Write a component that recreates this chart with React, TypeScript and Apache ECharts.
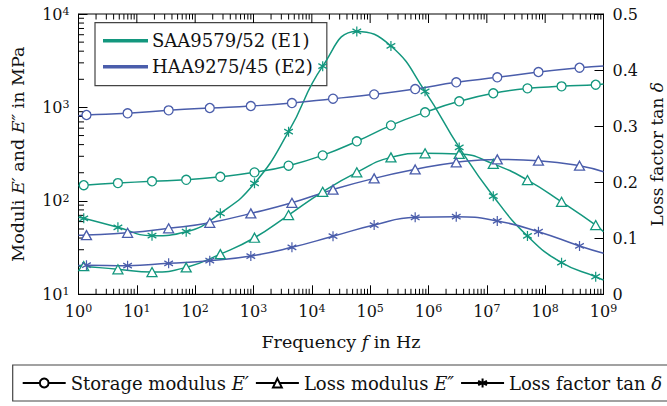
import React, { useEffect, useRef } from 'react';
import * as echarts from 'echarts';

const TEAL = '#13977e';
const BLUE = '#4a5dab';
const FONT = "'DejaVu Serif', serif";
const ASTER = 'path://M0,-10L0,10M-8.66,-5L8.66,5M-8.66,5L8.66,-5';

// axis ticks
const freqTicks = [1, 10, 100, 1e3, 1e4, 1e5, 1e6, 1e7, 1e8, 1e9];
const freqTickExp = ['0', '1', '2', '3', '4', '5', '6', '7', '8', '9'];
const moduliTicks = [10, 100, 1000, 10000];
const moduliTickExp = ['1', '2', '3', '4'];
const minorSteps = [2, 3, 4, 5, 6, 7, 8, 9];

// curve end frequencies (fitted curves span full range)
const curveEnds = [1, 1e9];

// measurement frequencies in Hz
const e1Freq = [1.23, 4.74, 18.2, 70.2, 270, 1040, 3990, 15350, 59000, 2.27e5, 8.73e5, 3.36e6, 1.29e7, 4.97e7, 1.91e8, 7.35e8];
const e2Freq = [1.37, 6.94, 35.1, 178, 900, 4560, 23070, 1.17e5, 5.91e5, 2.99e6, 1.51e7, 7.67e7, 3.88e8];

// SAA9579/52 (E1)
const e1Storage = [147, 155, 162, 168, 181, 202, 238, 307, 434, 643, 887, 1163, 1417, 1601, 1682, 1750];
const e1StorageEnds = [145, 1781];
const e1Loss = [20.0, 18.5, 17.3, 19.4, 26.9, 40.3, 70.5, 125, 202, 292, 323, 318, 249, 167, 97.8, 55.1];
const e1LossEnds = [20.2, 46.7];
const e1Tan = [0.1356, 0.1195, 0.1045, 0.1117, 0.1445, 0.198, 0.29, 0.407, 0.469, 0.443, 0.362, 0.262, 0.175, 0.104, 0.0564, 0.0314];
const e1TanEnds = [0.1374, 0.0255];

// HAA9275/45 (E2)
const e2Storage = [830, 865, 931, 986, 1035, 1114, 1240, 1380, 1573, 1857, 2100, 2393, 2660];
const e2StorageEnds = [815, 2775];
const e2Loss = [43.0, 45.5, 50.8, 58.3, 73.5, 95.4, 132, 174, 217, 258, 278, 269, 238];
const e2LossEnds = [42.8, 205];
const e2Tan = [0.052, 0.051, 0.0553, 0.0599, 0.0683, 0.0838, 0.1036, 0.1236, 0.1374, 0.1384, 0.1308, 0.1117, 0.0862];
const e2TanEnds = [0.0514, 0.0731];

const materialNames = ['SAA9579/52 (E1)', 'HAA9275/45 (E2)'];
const quantityNames = ['Storage modulus E′', 'Loss modulus E″', 'Loss factor tan δ'];

function curve(name: string, freq: number[], vals: number[], ends: number[], color: string, symbol: string, yAxisIndex: number) {
  const data: any[] = [{ value: [curveEnds[0], ends[0]], symbol: 'none' }];
  freq.forEach((f, i) => data.push([f, vals[i]]));
  data.push({ value: [curveEnds[1], ends[1]], symbol: 'none' });
  const isAster = symbol === ASTER;
  return {
    type: 'line',
    name,
    data,
    yAxisIndex,
    smooth: 0.5,
    showAllSymbol: true,
    symbol,
    symbolSize: isAster ? [8.7, 10] : symbol === 'triangle' ? [10, 9] : 9,
    lineStyle: { color, width: 1.5 },
    itemStyle: isAster
      ? { color, borderColor: color, borderWidth: 1.3 }
      : { color: '#fff', borderColor: color, borderWidth: 1.3 },
    z: 5,
    silent: true,
    legendHoverLink: false,
  };
}

function legendDummy(name: string, color: string, symbol: string) {
  const isAster = symbol === ASTER;
  return {
    type: 'line',
    name,
    data: [],
    symbol,
    symbolSize: 9,
    lineStyle: { color, width: 1.6 },
    itemStyle: isAster || symbol === 'none'
      ? { color, borderColor: color, borderWidth: 1.4 }
      : { color: '#fff', borderColor: color, borderWidth: 1.4 },
  };
}

const richText = (size: number, lineHeight?: number) => ({
  r: { fontFamily: FONT, fontSize: size, color: '#111', lineHeight },
  i: { fontFamily: FONT, fontSize: size, color: '#111', fontStyle: 'italic', lineHeight },
});

const supRich = {
  b: { fontFamily: FONT, fontSize: 16, color: '#111', lineHeight: 16 },
  s: { fontFamily: FONT, fontSize: 11, color: '#111', lineHeight: 11, verticalAlign: 'top' },
};

export default function App() {
  const ref = useRef<HTMLDivElement>(null);
  useEffect(() => {
    if (!ref.current) return;
    const chart = echarts.init(ref.current, null, { renderer: 'svg' });

    const xMinor: number[][] = [];
    freqTicks.slice(0, -1).forEach((d) => minorSteps.forEach((m) => xMinor.push([d * m, 100])));
    const yMinor: number[][] = [];
    moduliTicks.slice(0, -1).forEach((d) => minorSteps.forEach((m) => yMinor.push([10, d * m])));
    const xMajor = freqTicks.map((f) => [f, 100]);

    const tickSeries = (data: number[][], kind: string) => ({
      type: 'custom',
      silent: true,
      z: 3,
      data,
      renderItem: (params: any, api: any) => {
        const cs = params.coordSys;
        const stroke = { stroke: '#000', lineWidth: 1 };
        if (kind === 'y') {
          const py = api.coord([api.value(0), api.value(1)])[1];
          return { type: 'line', shape: { x1: cs.x, y1: py, x2: cs.x + 5.5, y2: py }, style: stroke };
        }
        const px = api.coord([api.value(0), api.value(1)])[0];
        const len = kind === 'xMajorTop' ? 9 : 5.5;
        const children: any[] = [
          { type: 'line', shape: { x1: px, y1: cs.y, x2: px, y2: cs.y + len }, style: stroke },
        ];
        if (kind === 'xMinor') {
          children.push({ type: 'line', shape: { x1: px, y1: cs.y + cs.height, x2: px, y2: cs.y + cs.height - len }, style: stroke });
        }
        return { type: 'group', children };
      },
    });

    chart.setOption({
      animation: false,
      backgroundColor: '#fff',
      grid: {
        left: 78.5, right: 63.5, top: 14, bottom: 111.7,
        outerBoundsMode: 'none', containLabel: false,
        show: true, borderColor: '#000', borderWidth: 1, backgroundColor: 'transparent',
      },
      xAxis: {
        type: 'log',
        logBase: 10,
        min: 1,
        max: 1e9,
        interval: 1,
        axisLine: { lineStyle: { color: '#000', width: 1 } },
        axisTick: { inside: true, length: 9, lineStyle: { color: '#000' } },
        splitLine: { show: false },
        axisLabel: {
          margin: 9,
          formatter: (v: number) => `{b|10}{s|${freqTickExp[Math.round(Math.log10(v))]}}`,
          rich: supRich,
        },
        name: '{r|Frequency }{i|f}{r| in Hz}',
        nameLocation: 'middle',
        nameGap: 39,
        nameTextStyle: { rich: richText(17.5) },
      },
      yAxis: [
        {
          type: 'log',
          logBase: 10,
          min: 10,
          max: 10000,
          interval: 1,
          axisLine: { lineStyle: { color: '#000', width: 1 } },
          axisTick: { inside: true, length: 9, lineStyle: { color: '#000' } },
          splitLine: { show: false },
          axisLabel: {
            margin: 9,
            formatter: (v: number) => `{b|10}{s|${moduliTickExp[Math.round(Math.log10(v)) - 1]}}`,
            rich: supRich,
          },
          name: '{r|Moduli }{i|E′}{r| and }{i|E″}{r| in MPa}',
          nameLocation: 'middle',
          nameGap: 52,
          nameTextStyle: { rich: richText(17.5) },
        },
        {
          type: 'value',
          position: 'right',
          min: 0,
          max: 0.5,
          interval: 0.1,
          axisLine: { show: true, lineStyle: { color: '#000', width: 1 } },
          axisTick: { show: true, inside: true, length: 9, lineStyle: { color: '#000' } },
          splitLine: { show: false },
          axisLabel: { margin: 9, fontFamily: FONT, fontSize: 16, color: '#111' },
          name: '{r|Loss factor tan }{i|δ}',
          nameLocation: 'middle',
          nameGap: 45,
          nameTextStyle: { rich: richText(17, 15) },
        },
      ],
      legend: [
        {
          data: materialNames,
          orient: 'vertical',
          left: 95,
          top: 22.7,
          padding: [8, 14, 9, 8],
          icon: 'rect',
          itemWidth: 43,
          itemHeight: 1.6,
          itemGap: 6,
          selectedMode: false,
          backgroundColor: '#fff',
          borderColor: '#444',
          borderWidth: 1.2,
          borderRadius: 0,
          textStyle: { fontFamily: FONT, fontSize: 18, color: '#111', lineHeight: 20 },
          z: 1,
        },
        {
          data: quantityNames,
          orient: 'horizontal',
          left: 12.7,
          top: 365,
          width: 660,
          padding: [8, 10, 8, 9],
          itemWidth: 43,
          itemHeight: 11,
          itemGap: 6,
          selectedMode: false,
          backgroundColor: '#fff',
          borderColor: '#444',
          borderWidth: 1.2,
          borderRadius: 0,
          textStyle: { fontFamily: FONT, fontSize: 18, color: '#111', lineHeight: 20, rich: richText(18) },
          formatter: (name: string) => {
            if (name === quantityNames[0]) return '{r|Storage modulus }{i|E′}';
            if (name === quantityNames[1]) return '{r|Loss modulus }{i|E″}';
            return '{r|Loss factor tan }{i|δ}';
          },
        },
      ],
      series: [
        legendDummy(materialNames[0], TEAL, 'none'),
        legendDummy(materialNames[1], BLUE, 'none'),
        legendDummy(quantityNames[0], '#000', 'circle'),
        legendDummy(quantityNames[1], '#000', 'triangle'),
        legendDummy(quantityNames[2], '#000', ASTER),
        curve('E1 storage', e1Freq, e1Storage, e1StorageEnds, TEAL, 'circle', 0),
        curve('E1 loss', e1Freq, e1Loss, e1LossEnds, TEAL, 'triangle', 0),
        curve('E1 tan', e1Freq, e1Tan, e1TanEnds, TEAL, ASTER, 1),
        curve('E2 storage', e2Freq, e2Storage, e2StorageEnds, BLUE, 'circle', 0),
        curve('E2 loss', e2Freq, e2Loss, e2LossEnds, BLUE, 'triangle', 0),
        curve('E2 tan', e2Freq, e2Tan, e2TanEnds, BLUE, ASTER, 1),
        tickSeries(xMinor, 'xMinor'),
        tickSeries(xMajor, 'xMajorTop'),
        tickSeries(yMinor, 'y'),
      ],
    });
    return () => chart.dispose();
  }, []);
  return <div ref={ref} style={{ position: 'fixed', left: 0, top: 0, width: 667, height: 406 }} />;
}
